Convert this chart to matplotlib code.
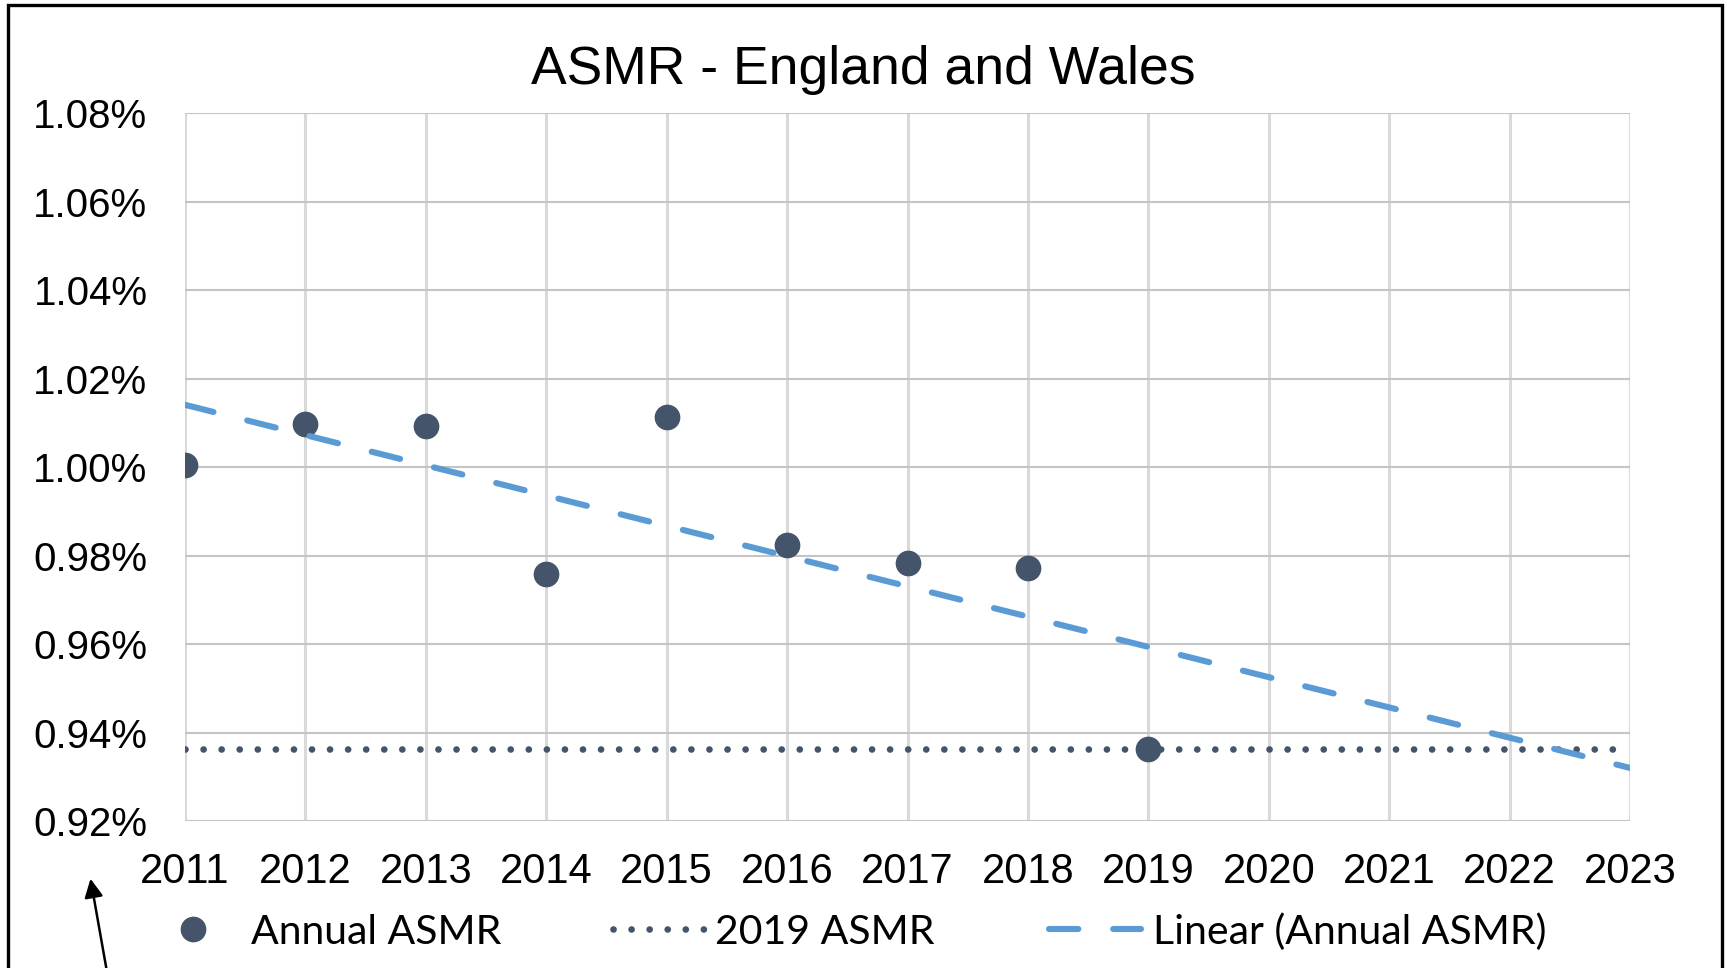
import matplotlib.pyplot as plt
import numpy as np
from matplotlib.lines import Line2D
from matplotlib.patches import Rectangle

# annual age-standardised mortality rate, % of population
years = [2011, 2012, 2013, 2014, 2015, 2016, 2017, 2018, 2019]
asmr = [1.0005, 1.0097, 1.0092, 0.9758, 1.0112, 0.9823, 0.9783, 0.9771, 0.9362]
x_ticks = list(range(2011, 2024))
y_ticks = [0.92, 0.94, 0.96, 0.98, 1.00, 1.02, 1.04, 1.06, 1.08]
labels = ["Annual ASMR", "2019 ASMR", "Linear (Annual ASMR)"]

W, H = 1727, 968
fig = plt.figure(figsize=(W / 100, H / 100), dpi=100)
ax = fig.add_axes([185 / W, 1 - 821 / H, (1630 - 185) / W, (821 - 113) / H])

dark = "#44546A"
blue = "#5B9BD5"
dot_style = dict(color=dark, lw=4.8, linestyle=(0, (0.01, 2.7)), dash_capstyle="round")
dash_style = dict(color=blue, lw=4.4, linestyle=(0, (4.8, 5.7)), dash_capstyle="round")
mark_style = dict(marker="o", color=dark, linestyle="none", markersize=17.5)

# 2019 reference level
v2019 = asmr[years.index(2019)]
ax.plot([x_ticks[0], x_ticks[-1]], [v2019, v2019], zorder=3, **dot_style)

ax.plot(years, asmr, zorder=4, **mark_style)

# linear trend, extended to 2023
coef = np.polyfit(years, asmr, 1)
xs = np.array([x_ticks[0], x_ticks[-1]])
ax.plot(xs, np.polyval(coef, xs), zorder=5, **dash_style)

ax.set_xlim(x_ticks[0], x_ticks[-1])
ax.set_ylim(y_ticks[0], y_ticks[-1])
ax.set_xticks(x_ticks)
ax.set_yticks(y_ticks)
ax.set_yticklabels([f"{v:.2f}%" for v in y_ticks])
ax.xaxis.grid(True, color="#D9D9D9", lw=2.2)
ax.yaxis.grid(True, color="#C4C4C4", lw=1.5)
ax.set_axisbelow(True)
for s in ax.spines.values():
    s.set_visible(False)
ax.tick_params(length=0, labelcolor="black", labelfontfamily="Liberation Sans")
ax.tick_params(axis="y", pad=27, labelsize=29)
ax.tick_params(axis="x", pad=22, labelsize=30)

fig.text(0.5, 1 - 84 / H, "ASMR - England and Wales", ha="center", va="baseline",
         fontsize=38.5, family="Liberation Sans")

# legend entries placed one by one along the bottom
fs = 29.5
em = fs * 100 / 72
entries = [
    (Line2D([], [], **mark_style), 172.5, 1.0, (251 - 213.5) / em),
    (Line2D([], [], **dot_style), 613, 2.3, 0.2),
    (Line2D([], [], **dash_style), 1049, 2.24, 0.3),
]
for (h, x0, hl, tp), lab in zip(entries, labels):
    fig.legend([h], [lab], loc="center left", bbox_to_anchor=(x0 / W, 1 - 932 / H),
               frameon=False, borderpad=0, borderaxespad=0, handlelength=hl,
               handletextpad=tp, prop={"family": "Lato", "size": fs})

# frame around the picture, open at the bottom
fig.patches.append(Rectangle((8 / W, -0.1), (1722 - 8) / W, 0.1 + 1 - 5 / H,
                             transform=fig.transFigure, fill=False, lw=2.4,
                             edgecolor="black"))
ax.annotate("", xy=(90 / W, 1 - 876 / H), xycoords="figure fraction",
            xytext=(108 / W, -0.01), textcoords="figure fraction",
            arrowprops=dict(arrowstyle="-|>", color="black", lw=1.8, mutation_scale=28),
            annotation_clip=False)

fig.savefig("out.png", dpi=100)
